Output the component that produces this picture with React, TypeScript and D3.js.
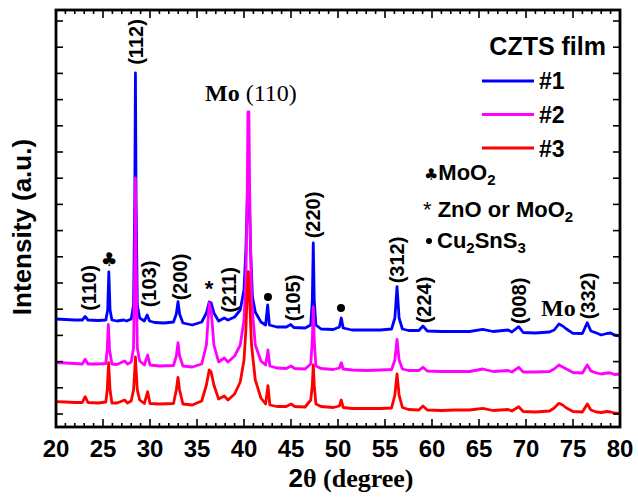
import React from "react";
import * as d3 from "d3";

// 2θ (degree) vs intensity (a.u.)
const series1: [number, number][] = [
  [20.0, 1080], [21.0, 1075], [22.0, 1070], [22.8, 1070], [23.1, 1105], [23.4, 1070], [24.5, 1065],
  [25.3, 1070], [25.5, 1170], [25.62, 1550], [25.75, 1170], [25.95, 1070], [26.5, 1060], [27.2, 1070],
  [27.5, 1060], [28.0, 1080], [28.25, 1220], [28.38, 2270], [28.45, 3540], [28.52, 2270], [28.65, 1220],
  [28.9, 1090], [29.4, 1060], [29.7, 1120], [29.95, 1060], [30.5, 1045], [31.5, 1040], [32.5, 1050],
  [32.8, 1130], [32.98, 1253], [33.15, 1130], [33.5, 1040], [34.5, 1020], [35.5, 1050], [36.0, 1140],
  [36.3, 1250], [36.5, 1240], [36.8, 1140], [37.3, 1060], [37.9, 1090], [38.3, 1070], [39.0, 1100],
  [39.6, 1170], [40.0, 1370], [40.2, 1770], [40.36, 2300], [40.46, 2600], [40.56, 2300], [40.7, 1770],
  [40.9, 1300], [41.2, 1150], [41.8, 1050], [42.3, 1020], [42.52, 1220], [42.7, 1020], [43.5, 1000],
  [44.5, 1000], [44.97, 1025], [45.3, 995], [46.5, 990], [47.1, 1020], [47.27, 1270], [47.37, 1840],
  [47.47, 1270], [47.65, 1020], [48.2, 980], [49.5, 975], [50.15, 1000], [50.35, 1090], [50.55, 990],
  [51.5, 970], [53.0, 970], [54.5, 970], [55.7, 980], [56.05, 1090], [56.28, 1403], [56.5, 1090],
  [56.85, 980], [57.5, 965], [58.6, 965], [59.04, 1010], [59.5, 960], [61.0, 955], [62.5, 955],
  [64.0, 955], [65.4, 977], [66.5, 955], [68.1, 970], [68.5, 950], [69.22, 1003], [69.7, 945],
  [71.0, 940], [72.5, 950], [73.0, 970], [73.5, 1030], [73.9, 1010], [74.3, 980], [75.0, 937],
  [76.0, 935], [76.52, 1043], [76.9, 960], [77.5, 940], [78.0, 920], [78.6, 935], [79.0, 940],
  [79.4, 920], [80.0, 910],
];

const series2: [number, number][] = [
  [20.0, 643], [21.0, 640], [22.0, 635], [22.8, 630], [23.1, 677], [23.4, 630], [24.5, 630],
  [25.3, 635], [25.45, 770], [25.57, 1027], [25.7, 770], [25.95, 630], [26.5, 625], [27.3, 660],
  [27.6, 630], [28.0, 650], [28.25, 790], [28.38, 1670], [28.45, 2490], [28.52, 1670], [28.65, 790],
  [28.9, 660], [29.4, 620], [29.75, 720], [30.0, 620], [31.0, 610], [32.5, 615], [32.8, 710],
  [32.98, 843], [33.15, 710], [33.5, 610], [34.5, 600], [35.5, 630], [36.0, 820], [36.3, 1240],
  [36.5, 1170], [36.8, 820], [37.3, 650], [37.9, 690], [38.3, 650], [39.0, 710], [39.6, 820],
  [40.0, 1070], [40.2, 1470], [40.35, 2370], [40.42, 3150], [40.52, 3150], [40.6, 2370], [40.8, 1270],
  [41.2, 820], [41.8, 660], [42.3, 620], [42.55, 770], [42.75, 610], [43.5, 590], [44.5, 585],
  [45.0, 610], [45.4, 585], [46.5, 580], [47.1, 630], [47.27, 870], [47.37, 1200], [47.47, 870],
  [47.65, 610], [48.2, 585], [49.5, 575], [50.15, 590], [50.35, 643], [50.55, 580], [51.5, 570],
  [53.0, 565], [54.5, 570], [55.7, 575], [56.05, 670], [56.28, 877], [56.5, 670], [56.85, 580],
  [57.5, 565], [58.6, 565], [59.04, 597], [59.5, 560], [61.0, 555], [62.5, 555], [64.0, 555],
  [65.4, 580], [66.5, 555], [68.1, 565], [68.5, 550], [69.22, 597], [69.7, 550], [71.0, 550],
  [72.5, 555], [73.0, 580], [73.5, 620], [73.9, 600], [74.3, 580], [75.0, 545], [76.0, 540],
  [76.52, 620], [76.9, 560], [77.5, 540], [78.0, 530], [78.6, 540], [79.0, 540], [79.4, 525],
  [80.0, 530],
];

const series3: [number, number][] = [
  [20.0, 253], [21.0, 250], [22.0, 245], [22.8, 245], [23.1, 303], [23.4, 245], [24.5, 240],
  [25.3, 250], [25.45, 370], [25.6, 643], [25.75, 370], [25.95, 240], [26.5, 240], [27.3, 270],
  [27.6, 240], [28.0, 260], [28.25, 370], [28.38, 570], [28.45, 700], [28.52, 570], [28.65, 370],
  [28.9, 270], [29.4, 235], [29.75, 353], [30.0, 235], [31.0, 230], [32.5, 235], [32.8, 370],
  [32.98, 497], [33.15, 370], [33.5, 230], [34.5, 220], [35.5, 260], [36.0, 420], [36.3, 570],
  [36.5, 550], [36.8, 420], [37.3, 280], [37.9, 310], [38.3, 270], [39.0, 330], [39.6, 450],
  [40.0, 670], [40.2, 970], [40.35, 1370], [40.46, 1553], [40.6, 1270], [40.8, 820], [41.2, 470],
  [41.8, 290], [42.3, 230], [42.55, 413], [42.75, 220], [43.5, 205], [44.5, 205], [45.0, 230],
  [45.4, 205], [46.5, 200], [47.1, 270], [47.27, 420], [47.37, 620], [47.47, 420], [47.65, 230],
  [48.2, 205], [49.5, 195], [50.15, 210], [50.35, 270], [50.55, 195], [51.5, 185], [53.0, 185],
  [54.5, 185], [55.7, 190], [56.05, 320], [56.28, 530], [56.5, 320], [56.85, 195], [57.5, 175],
  [58.6, 170], [59.04, 210], [59.5, 170], [61.0, 165], [62.5, 170], [64.0, 170], [65.4, 187],
  [66.5, 165], [68.1, 175], [68.5, 160], [69.22, 203], [69.7, 155], [71.0, 150], [72.5, 160],
  [73.0, 190], [73.5, 237], [73.9, 220], [74.3, 190], [75.0, 155], [76.0, 150], [76.52, 230],
  [76.9, 170], [77.5, 150], [78.0, 145], [78.6, 155], [79.0, 150], [79.4, 140], [80.0, 137],
];

const seriesNames = ["#1", "#2", "#3"];
const seriesColors = ["#0000ff", "#ff00ff", "#ff0000"];
const xTickLabels = [20, 25, 30, 35, 40, 45, 50, 55, 60, 65, 70, 75, 80];
const xMinorTicks = d3.range(20, 81, 1);
const yTicks = d3.range(130, 4170, 262);

// peak labels: [text, 2θ, intensity at label centre]
const peakLabels: [string, number, number][] = [
  ["(110)", 23.51, 1390],
  ["(112)", 28.51, 3850],
  ["(103)", 29.84, 1430],
  ["(200)", 33.19, 1500],
  ["(211)", 38.35, 1370],
  ["(105)", 45.21, 1290],
  ["(220)", 47.34, 2120],
  ["(312)", 56.28, 1670],
  ["(224)", 59.15, 1270],
  ["(008)", 69.26, 1260],
  ["(332)", 76.6, 1310],
];
const clubMarks: [number, number][] = [[25.64, 1610]];
const starMarks: [number, number][] = [[36.28, 1310]];
const dotMarks: [number, number][] = [[42.55, 1300], [50.32, 1190]];

const W = 638;
const H = 497;
const M = { left: 56, top: 10, right: 620, bottom: 427 };

const sans = "'Liberation Sans', Arial, sans-serif";
const serif = "'Liberation Serif', 'Times New Roman', serif";

export default function App() {
  const x = d3.scaleLinear().domain([20, 80]).range([M.left, M.right]);
  const y = d3.scaleLinear().domain([0, 4170]).range([M.bottom, M.top]);
  const line = d3
    .line<[number, number]>()
    .x((d) => x(d[0]))
    .y((d) => y(d[1]));
  const all = [series1, series2, series3];

  return (
    <svg
      width={W}
      height={H}
      style={{ position: "absolute", left: 0, top: 0, background: "#fff" }}
    >
      <defs>
        <clipPath id="plot">
          <rect x={M.left} y={M.top} width={M.right - M.left} height={M.bottom - M.top} />
        </clipPath>
      </defs>
      <rect width={W} height={H} fill="#fff" />
      <g clipPath="url(#plot)">
        {all.map((s, i) => (
          <path
            key={i}
            d={line(s) || ""}
            fill="none"
            stroke={seriesColors[i]}
            strokeWidth={2.8}
            strokeLinejoin="round"
          />
        ))}
      </g>

      {/* ticks */}
      <g stroke="#000" strokeWidth={1.6}>
        {xMinorTicks.map((t) => {
          const len = t % 5 === 0 ? 8 : 4;
          return (
            <g key={t}>
              <line x1={x(t)} x2={x(t)} y1={M.bottom} y2={M.bottom - len} />
              <line x1={x(t)} x2={x(t)} y1={M.top} y2={M.top + len} />
            </g>
          );
        })}
        {yTicks.map((t) => (
          <g key={t}>
            <line x1={M.left} x2={M.left + 7} y1={y(t)} y2={y(t)} />
            <line x1={M.right} x2={M.right - 7} y1={y(t)} y2={y(t)} />
          </g>
        ))}
      </g>
      <rect
        x={M.left}
        y={M.top}
        width={M.right - M.left}
        height={M.bottom - M.top}
        fill="none"
        stroke="#000"
        strokeWidth={2.8}
      />

      {/* x tick labels */}
      {xTickLabels.map((t) => (
        <text
          key={t}
          x={x(t)}
          y={457}
          textAnchor="middle"
          fontFamily={sans}
          fontWeight="bold"
          fontSize={24}
        >
          {t}
        </text>
      ))}

      {/* axis titles */}
      <text x={351} y={487} textAnchor="middle" fontWeight="bold" fontSize={26}>
        <tspan fontFamily={sans}>2</tspan>
        <tspan fontFamily={serif}>θ (degree)</tspan>
      </text>
      <text
        transform={`translate(31,227) rotate(-90)`}
        textAnchor="middle"
        fontFamily={sans}
        fontWeight="bold"
        fontSize={26}
      >
        Intensity (a.u.)
      </text>

      {/* peak labels */}
      {peakLabels.map(([t, th, v]) => (
        <text
          key={t}
          transform={`translate(${x(th)},${y(v)}) rotate(-90)`}
          textAnchor="middle"
          dy="0.36em"
          fontFamily={sans}
          fontWeight="bold"
          fontSize={20}
        >
          {t}
        </text>
      ))}
      {clubMarks.map(([th, v], i) => (
        <text
          key={i}
          x={x(th)}
          y={y(v)}
          textAnchor="middle"
          fontFamily="'DejaVu Sans', sans-serif"
          fontSize={19}
        >
          ♣
        </text>
      ))}
      {starMarks.map(([th, v], i) => (
        <text
          key={i}
          x={x(th)}
          y={y(v)}
          textAnchor="middle"
          fontFamily={sans}
          fontWeight="bold"
          fontSize={22}
        >
          *
        </text>
      ))}
      {dotMarks.map(([th, v], i) => (
        <circle key={i} cx={x(th)} cy={y(v)} r={4} fill="#000" />
      ))}

      <text x={205} y={101} fontFamily={serif} fontSize={24}>
        <tspan fontWeight="bold">Mo</tspan>
        <tspan> (110)</tspan>
      </text>
      <text x={541} y={316} fontFamily={serif} fontSize={24} fontWeight="bold">
        Mo
      </text>

      {/* legend */}
      <text
        x={606}
        y={55}
        textAnchor="end"
        fontFamily={sans}
        fontWeight="bold"
        fontSize={25}
      >
        CZTS film
      </text>
      {seriesNames.map((n, i) => (
        <g key={n}>
          <line
            x1={482}
            x2={534}
            y1={81 + i * 33.5}
            y2={81 + i * 33.5}
            stroke={seriesColors[i]}
            strokeWidth={2.8}
          />
          <text
            x={539}
            y={89 + i * 33.8}
            fontFamily={sans}
            fontWeight="bold"
            fontSize={23}
          >
            {n}
          </text>
        </g>
      ))}

      <text x={424} y={180} fontFamily={sans} fontWeight="bold" fontSize={22}>
        <tspan fontFamily="'DejaVu Sans', sans-serif" fontWeight="normal" fontSize={16}>
          ♣
        </tspan>
        <tspan>MoO</tspan>
        <tspan fontSize={15} dy={5}>
          2
        </tspan>
      </text>
      <text x={423} y={217} fontFamily={sans} fontWeight="bold" fontSize={22}>
        <tspan fontWeight="normal">*</tspan>
        <tspan> ZnO or MoO</tspan>
        <tspan fontSize={15} dy={5}>
          2
        </tspan>
      </text>
      <circle cx={429} cy={241} r={3} fill="#000" />
      <text x={437} y={248} fontFamily={sans} fontWeight="bold" fontSize={22}>
        <tspan>Cu</tspan>
        <tspan fontSize={15} dy={5}>
          2
        </tspan>
        <tspan dy={-5}>SnS</tspan>
        <tspan fontSize={15} dy={5}>
          3
        </tspan>
      </text>
    </svg>
  );
}
